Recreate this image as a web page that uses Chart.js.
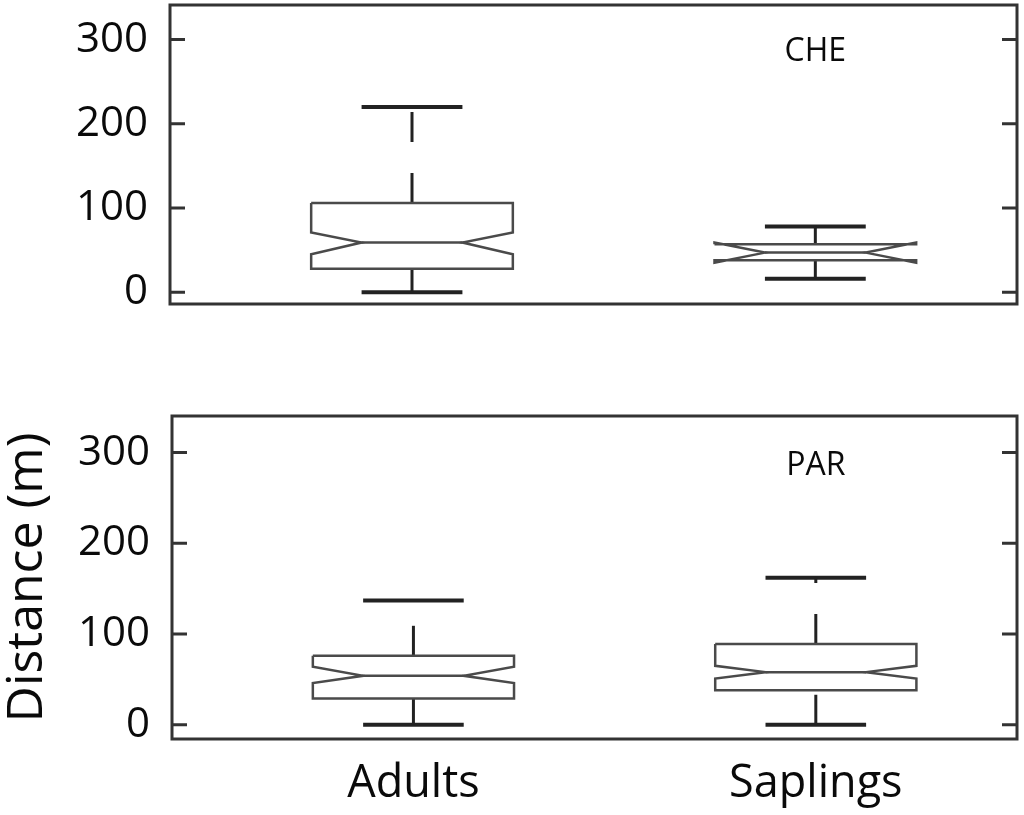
<!DOCTYPE html>
<html>
<head>
<meta charset="utf-8">
<script src="https://cdn.jsdelivr.net/npm/chart.js@4.4.0/dist/chart.umd.min.js"></script>
<style>
  html, body { margin: 0; padding: 0; background: #fff; }
  #wrap { position: relative; width: 1024px; height: 815px; overflow: hidden; }
  .panel { position: absolute; left: 0; width: 1024px; }
  #topPanel { top: 0; height: 320px; }
  #bottomPanel { top: 400px; height: 415px; }
</style>
</head>
<body>
<div id="wrap">
  <div class="panel" id="topPanel"><canvas id="cheChart"></canvas></div>
  <div class="panel" id="bottomPanel"><canvas id="parChart"></canvas></div>
</div>
<script>
const categories = ['Adults', 'Saplings'];
const yTicks = [0, 100, 200, 300];

// CHE (top panel)
const cheLowWhisker = [0, 16];
const cheQ1 = [28, 38];
const cheMedian = [59, 47];
const cheQ3 = [106, 57];
const cheHighWhisker = [220, 78];
const cheNotchLow = [45, 35];
const cheNotchHigh = [71, 59];

// PAR (bottom panel)
const parLowWhisker = [0, 0];
const parQ1 = [29, 38];
const parMedian = [54, 58];
const parQ3 = [76, 89];
const parHighWhisker = [137, 162];
const parNotchLow = [46, 51];
const parNotchHigh = [64, 65];

const FONT = '"Open Sans", "DejaVu Sans", sans-serif';
const INK = '#0a0a0a';

// box geometry in category units
const HALF_BOX = 0.25;
const HALF_NOTCH = 0.125;
const HALF_CAP = 0.125;

function line(label, data, color, width, dash) {
  return {
    label: label,
    data: data,
    showLine: true,
    borderColor: color,
    borderWidth: width,
    borderDash: dash || [],
    borderJoinStyle: 'miter',
    borderCapStyle: 'butt',
    pointRadius: 0,
    fill: false,
    tension: 0
  };
}

function boxDatasets(lo, q1, med, q3, hi, nlo, nhi) {
  const sets = [];
  categories.forEach((cat, i) => {
    const c = i + 1;
    // notched box outline (matlab style)
    sets.push(line(cat + ' box', [
      {x: c - HALF_BOX, y: q3[i]}, {x: c + HALF_BOX, y: q3[i]},
      {x: c + HALF_BOX, y: nhi[i]}, {x: c + HALF_NOTCH, y: med[i]},
      {x: c + HALF_BOX, y: nlo[i]}, {x: c + HALF_BOX, y: q1[i]},
      {x: c - HALF_BOX, y: q1[i]}, {x: c - HALF_BOX, y: nlo[i]},
      {x: c - HALF_NOTCH, y: med[i]}, {x: c - HALF_BOX, y: nhi[i]},
      {x: c - HALF_BOX, y: q3[i]}
    ], '#4a4a4a', 2.5));
    sets.push(line(cat + ' median', [
      {x: c - HALF_NOTCH, y: med[i]}, {x: c + HALF_NOTCH, y: med[i]}
    ], '#4a4a4a', 2.5));
    // whiskers, dashed, drawn low -> high
    sets.push(line(cat + ' lower whisker', [
      {x: c, y: lo[i]}, {x: c, y: q1[i]}
    ], '#222', 3, [30, 31]));
    sets.push(line(cat + ' upper whisker', [
      {x: c, y: q3[i]}, {x: c, y: hi[i]}
    ], '#222', 3, [30, 31]));
    sets.push(line(cat + ' lower cap', [
      {x: c - HALF_CAP, y: lo[i]}, {x: c + HALF_CAP, y: lo[i]}
    ], '#222', 4));
    sets.push(line(cat + ' upper cap', [
      {x: c - HALF_CAP, y: hi[i]}, {x: c + HALF_CAP, y: hi[i]}
    ], '#222', 4));
  });
  return sets;
}

// frame + inward ticks on both sides + panel name
const framePlugin = {
  id: 'frame',
  afterDatasetsDraw(chart, args, opts) {
    const ctx = chart.ctx;
    const a = chart.chartArea;
    const y = chart.scales.y;
    const x = chart.scales.x;
    ctx.save();
    ctx.strokeStyle = '#333';
    ctx.lineWidth = 3;
    ctx.strokeRect(a.left, a.top, a.right - a.left, a.bottom - a.top);
    y.ticks.forEach((t, k) => {
      const py = y.getPixelForTick(k);
      ctx.beginPath();
      ctx.moveTo(a.left, py); ctx.lineTo(a.left + 15, py);
      ctx.moveTo(a.right - 15, py); ctx.lineTo(a.right, py);
      ctx.stroke();
    });
    ctx.fillStyle = INK;
    ctx.font = '32px ' + FONT;
    ctx.textAlign = 'center';
    ctx.textBaseline = 'middle';
    ctx.fillText(opts.name, x.getPixelForValue(2), y.getPixelForValue(285));
    ctx.restore();
  }
};

function makeChart(id, name, sets, yMin, yMax, axisWidth, pad, showX) {
  return new Chart(document.getElementById(id), {
    type: 'scatter',
    data: { datasets: sets },
    plugins: [framePlugin],
    options: {
      responsive: true,
      maintainAspectRatio: false,
      animation: false,
      events: [],
      layout: { padding: pad },
      plugins: {
        legend: { display: false },
        tooltip: { enabled: false },
        frame: { name: name }
      },
      scales: {
        x: {
          type: 'linear',
          min: 0.4,
          max: 2.5,
          display: showX,
          grid: { display: false, drawTicks: false },
          border: { display: false },
          afterBuildTicks: s => { s.ticks = categories.map((c, i) => ({ value: i + 1 })); },
          afterFit: s => {
            if (showX) s.height = 76;
            s.paddingLeft = 0; s.paddingRight = 0;
          },
          ticks: {
            padding: 18,
            color: INK,
            font: { family: FONT, size: 45 },
            maxRotation: 0,
            autoSkip: false,
            callback: v => categories[Math.round(v) - 1]
          }
        },
        y: {
          type: 'linear',
          min: yMin,
          max: yMax,
          grid: { display: false, drawTicks: false },
          border: { display: false },
          afterBuildTicks: s => { s.ticks = yTicks.map(v => ({ value: v })); },
          afterFit: s => { s.width = axisWidth; s.paddingTop = 0; s.paddingBottom = 0; },
          title: {
            display: showX,
            text: 'Distance (m)',
            color: INK,
            font: { family: FONT, size: 50, lineHeight: 1 },
            padding: { top: 3, bottom: 0 }
          },
          ticks: {
            padding: 22,
            color: INK,
            font: { family: FONT, size: 42 }
          }
        }
      }
    }
  });
}

makeChart('cheChart', 'CHE',
  boxDatasets(cheLowWhisker, cheQ1, cheMedian, cheQ3, cheHighWhisker, cheNotchLow, cheNotchHigh),
  -14, 341, 170, { top: 5, right: 7, bottom: 16, left: 0 }, false);

makeChart('parChart', 'PAR',
  boxDatasets(parLowWhisker, parQ1, parMedian, parQ3, parHighWhisker, parNotchLow, parNotchHigh),
  -15.7, 340.3, 172, { top: 16, right: 7, bottom: 0, left: 0 }, true);
</script>
</body>
</html>
